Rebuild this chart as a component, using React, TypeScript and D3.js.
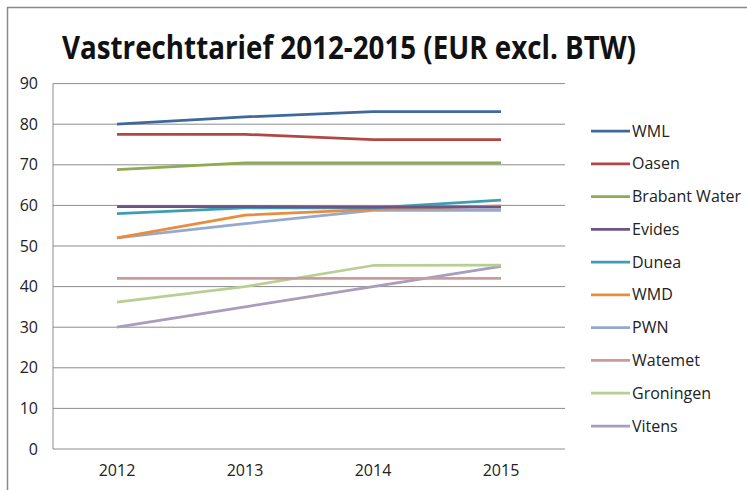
import React from 'react';
import * as d3 from 'd3';

// data
const years = ['2012', '2013', '2014', '2015'];
const yTicks = [0, 10, 20, 30, 40, 50, 60, 70, 80, 90];

const seriesNames = ['WML', 'Oasen', 'Brabant Water', 'Evides', 'Dunea', 'WMD', 'PWN', 'Watemet', 'Groningen', 'Vitens'];
const WML = [80, 81.8, 83.1, 83.1];
const Oasen = [77.5, 77.5, 76.2, 76.2];
const BrabantWater = [68.8, 70.5, 70.5, 70.5];
const Evides = [59.7, 59.7, 59.6, 59.6];
const Dunea = [58, 59.4, 59.4, 61.3];
const WMD = [52, 57.6, 59, 59.9];
const PWN = [52, 55.5, 58.8, 58.8];
const Watemet = [42, 42, 42, 42];
const Groningen = [36.2, 40, 45.2, 45.3];
const Vitens = [30, 35, 40, 45];
const seriesValues = [WML, Oasen, BrabantWater, Evides, Dunea, WMD, PWN, Watemet, Groningen, Vitens];

const colors = ['#40689c', '#b04744', '#8eab50', '#6a5488', '#3f9db3', '#e88c3e', '#93a9cf', '#c99c9c', '#b8cf94', '#a99cbc'];

const W = 747;
const H = 490;
const font = "'Open Sans', 'DejaVu Sans', sans-serif";

const App: React.FC = () => {
  const x = d3.scalePoint<string>().domain(years).range([53, 565]).padding(0.5);
  const y = d3.scaleLinear().domain([0, 90]).range([449, 83.6]);

  const line = d3.line<number>()
    .x((_, i) => x(years[i]) as number)
    .y(d => y(d));

  const legendY = d3.scalePoint<string>().domain(seriesNames).range([131, 426]);

  return (
    <div style={{ position: 'fixed', left: 0, top: 0 }}>
      <svg width={W} height={H} style={{ display: 'block', background: '#fff' }}>
        {/* frame */}
        <line x1={7} x2={W} y1={7.5} y2={7.5} stroke="#8a8a8a" strokeWidth={1.5} />
        <line x1={7.5} x2={7.5} y1={7} y2={H} stroke="#8a8a8a" strokeWidth={1.5} />

        <text x={62} y={59} fontFamily={font} fontWeight="bold" fontSize={33}
          textLength={574} lengthAdjust="spacingAndGlyphs" fill="#111">
          Vastrechttarief 2012-2015 (EUR excl. BTW)
        </text>

        {/* grid */}
        {yTicks.map(t => (
          <g key={t}>
            <line x1={53} x2={565} y1={y(t)} y2={y(t)} stroke="#8c8c8c" strokeWidth={1} />
            <text x={38} y={y(t)} dy="0.35em" textAnchor="end" fontFamily={font} fontSize={16} fill="#222">{t}</text>
          </g>
        ))}
        <line x1={53} x2={53} y1={y(0)} y2={y(90)} stroke="#8c8c8c" strokeWidth={1} />

        {years.map(yr => (
          <text key={yr} x={x(yr)} y={476} textAnchor="middle" fontFamily={font} fontSize={16} fill="#222">{yr}</text>
        ))}

        {/* series, drawn last-first so WML sits on top */}
        {seriesValues.map((vals, i) => ({ vals, i })).reverse().map(({ vals, i }) => (
          <path key={seriesNames[i]} d={line(vals) || ''} fill="none" stroke={colors[i]} strokeWidth={2.75} strokeLinejoin="round" />
        ))}

        {/* legend */}
        {seriesNames.map((n, i) => (
          <g key={n} transform={`translate(0, ${legendY(n)})`}>
            <line x1={591} x2={630} y1={0} y2={0} stroke={colors[i]} strokeWidth={2.75} />
            <text x={632} y={0} dy="0.35em" fontFamily={font} fontSize={16} fill="#222">{n}</text>
          </g>
        ))}
      </svg>
    </div>
  );
};

export default App;
